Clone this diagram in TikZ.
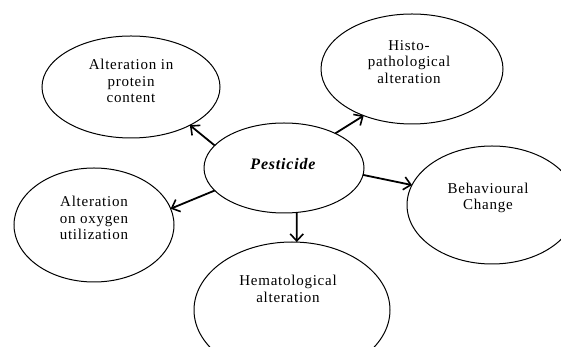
\documentclass[tikz,border=0pt]{standalone}
\usepackage{fontspec}
\setmainfont[LetterSpace=5]{Liberation Serif}
\usetikzlibrary{shapes.geometric,arrows.meta}
\tikzset{
  oval/.style={ellipse,draw=black,line width=1pt,inner sep=0pt,outer sep=0pt},
  lbl/.style={align=center,font=\fontsize{15}{16.5}\selectfont,inner sep=0pt},
  arr/.style={line width=1.8pt,-{Straight Barb[length=7pt,width=13pt,line width=1.6pt]}}
}
\begin{document}
\begin{tikzpicture}[x=1pt,y=1pt]
\clip (0,0) rectangle (561,347);
\fill[white] (0,0) rectangle (561,347);
\node[oval,minimum width=160,minimum height=90] (pest) at (284,179) {};
\node[oval,minimum width=178,minimum height=102] (prot) at (131,260) {};
\node[oval,minimum width=182,minimum height=110] (hist) at (412,278) {};
\node[oval,minimum width=170,minimum height=118] (beh) at (492,142) {};
\node[oval,minimum width=160,minimum height=114] (oxy) at (94,122) {};
\node[oval,minimum width=196,minimum height=136] (hem) at (292,37) {};
\node[lbl,font=\fontsize{16}{18}\selectfont\bfseries\itshape] (tpest) at (283,183) {Pesticide};
\node[lbl] (tprot) at (131,266) {Alteration in\\protein\\content};
\node[lbl] (thist) at (409,285) {Histo-\\pathological\\alteration};
\node[lbl] (tbeh) at (488,149) {Behavioural\\Change};
\node[lbl] (toxy) at (94,129) {Alteration\\on oxygen\\utilization};
\node[lbl] (them) at (288,58) {Hematological\\alteration};
\draw[arr] (pest.162) -- (prot.-33);
\draw[arr] (pest.34) -- (hist.224);
\draw[arr] (pest.-5) -- (beh.166);
\draw[arr] (pest.198) -- (oxy.12);
\draw[arr] (pest.-74) -- (hem.86);
\end{tikzpicture}
\end{document}
